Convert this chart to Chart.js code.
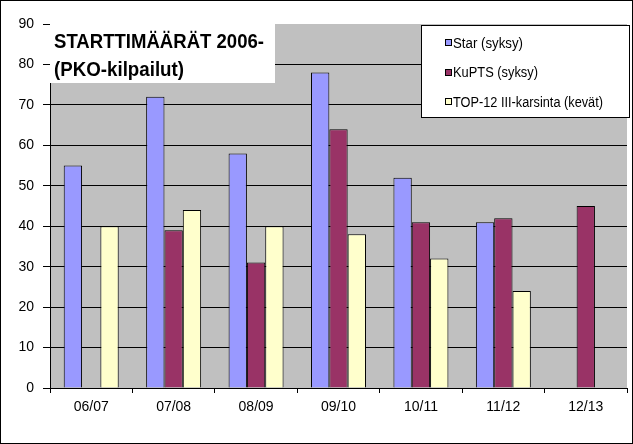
<!DOCTYPE html>
<html>
<head>
<meta charset="utf-8">
<script src="https://cdn.jsdelivr.net/npm/chart.js@4"></script>
<style>
  html, body { margin: 0; padding: 0; background: #fff; }
  #wrap { width: 633px; height: 444px; }
</style>
</head>
<body>
<div id="wrap"><canvas id="myChart" width="633" height="444"></canvas></div>
<script>
const seasons = ['06/07', '07/08', '08/09', '09/10', '10/11', '11/12', '12/13'];
const starValues = [55, 72, 58, 78, 52, 41, null];
const kuptsValues = [null, 39, 31, 64, 41, 42, 45];
const topValues = [40, 44, 40, 38, 32, 24, null];
const yTicks = [0, 10, 20, 30, 40, 50, 60, 70, 80, 90];
const titleLines = ['STARTTIMÄÄRÄT 2006-', '(PKO-kilpailut)'];

const FONT = '"Liberation Sans", Arial, sans-serif';

// gray plot area, white page and outer frame
const backdrop = {
  id: 'backdrop',
  beforeDraw(chart) {
    const c = chart.ctx;
    const a = chart.chartArea;
    c.save();
    c.fillStyle = '#fff';
    c.fillRect(0, 0, chart.width, chart.height);
    c.fillStyle = '#c0c0c0';
    c.fillRect(a.left, a.top, a.right - a.left, a.bottom - a.top);
    c.restore();
  },
  afterDraw(chart) {
    const c = chart.ctx;
    c.save();
    c.strokeStyle = '#000';
    c.lineWidth = 1;
    c.strokeRect(0.5, 0.5, chart.width - 1, chart.height - 1);
    c.restore();
  }
};

// title box in the top left corner of the plot
const titleBox = {
  id: 'titleBox',
  afterDraw(chart) {
    const c = chart.ctx;
    const a = chart.chartArea;
    c.save();
    c.fillStyle = '#fff';
    c.fillRect(a.left, a.top, 225, 59);
    c.fillStyle = '#000';
    c.font = 'bold 20px ' + FONT;
    c.textBaseline = 'alphabetic';
    c.fillText(titleLines[0], 54, 48, 210);
    c.fillText(titleLines[1], 54, 76, 130);
    c.restore();
  }
};

// boxed legend, Excel style
const boxLegend = {
  id: 'boxLegend',
  afterDraw(chart) {
    const c = chart.ctx;
    c.save();
    c.fillStyle = '#fff';
    c.fillRect(421.5, 25.5, 208, 92);
    c.strokeStyle = '#000';
    c.lineWidth = 1;
    c.strokeRect(421.5, 25.5, 208, 92);
    const widths = [70, 85, 150];
    c.font = '14px ' + FONT;
    c.textBaseline = 'middle';
    chart.data.datasets.forEach((ds, i) => {
      const y = 43 + i * 29.5;
      c.fillStyle = ds.backgroundColor;
      c.fillRect(445.5, Math.round(y) - 3.5, 6, 6);
      c.strokeRect(445.5, Math.round(y) - 3.5, 6, 6);
      c.fillStyle = '#000';
      c.fillText(ds.label, 453, y + 1, widths[i]);
    });
    c.restore();
  }
};

const ctx = document.getElementById('myChart').getContext('2d');
const chart = new Chart(ctx, {
  type: 'bar',
  data: {
    labels: seasons,
    datasets: [
      { label: 'Star (syksy)', data: starValues, backgroundColor: '#9999ff' },
      { label: 'KuPTS (syksy)', data: kuptsValues, backgroundColor: '#993366' },
      { label: 'TOP-12 III-karsinta (kevät)', data: topValues, backgroundColor: '#ffffcc' }
    ]
  },
  options: {
    responsive: false,
    animation: false,
    devicePixelRatio: 1,
    layout: { padding: { left: 0, right: 6, top: 24, bottom: 0 } },
    datasets: {
      bar: {
        borderColor: '#000',
        borderWidth: 1,
        barPercentage: 1,
        categoryPercentage: 0.667
      }
    },
    plugins: {
      legend: { display: false },
      tooltip: { enabled: false },
      title: { display: false }
    },
    scales: {
      x: {
        afterFit(scale) { scale.height = 56; },
        grid: {
          drawOnChartArea: false,
          drawTicks: true,
          tickLength: 5,
          color: '#000',
          tickColor: '#000'
        },
        border: { display: true, color: '#000', width: 1 },
        ticks: {
          color: '#000',
          font: { family: FONT, size: 14 },
          padding: 6,
          maxRotation: 0
        }
      },
      y: {
        min: 0,
        max: 90,
        afterFit(scale) { scale.width = 50; },
        afterBuildTicks(scale) { scale.ticks = yTicks.map(v => ({ value: v })); },
        grid: {
          color: ctx => (ctx.tick && ctx.tick.value === 90 ? 'rgba(0,0,0,0)' : '#000'),
          tickColor: '#000',
          tickLength: 7,
          lineWidth: 1
        },
        border: { display: true, color: '#000', width: 1 },
        ticks: {
          color: '#000',
          font: { family: FONT, size: 14 },
          padding: 9
        }
      }
    }
  },
  plugins: [backdrop, titleBox, boxLegend]
});
</script>
</body>
</html>
